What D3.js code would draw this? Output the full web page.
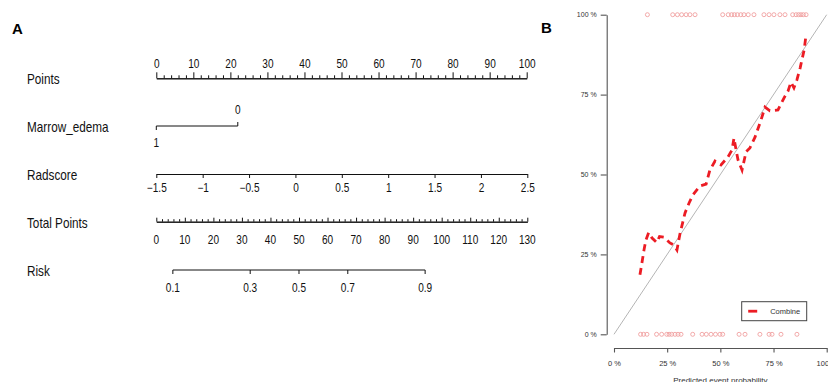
<!DOCTYPE html>
<html>
<head>
<meta charset="utf-8">
<script src="https://cdn.jsdelivr.net/npm/d3@7"></script>
<style>
  body { margin: 0; background: #fff; }
  svg { display: block; }
</style>
</head>
<body>
<svg id="chart" width="828" height="382"></svg>
<script>
// ---------- Panel A: nomogram ----------
const pointsTicks = [0, 10, 20, 30, 40, 50, 60, 70, 80, 90, 100];
const marrowLevels = ["0", "1"];
const marrowPoints = [22, 0];
const radscoreTicks = [-1.5, -1, -0.5, 0, 0.5, 1, 1.5, 2, 2.5];
const radscoreLabels = ["\u22121.5", "\u22121", "\u22120.5", "0", "0.5", "1", "1.5", "2", "2.5"];
const totalTicks = [0, 10, 20, 30, 40, 50, 60, 70, 80, 90, 100, 110, 120, 130];
const riskTicks = [0.1, 0.3, 0.5, 0.7, 0.9];
const riskTotalPoints = [5.8, 32.9, 50, 67.1, 94.2];

// ---------- Panel B: calibration curve ----------
const calPredicted = [0.122, 0.132, 0.141, 0.150, 0.163, 0.179, 0.201, 0.214, 0.235, 0.263,
  0.282, 0.296, 0.310, 0.334, 0.353, 0.371, 0.404, 0.433, 0.451, 0.475, 0.503, 0.536, 0.555,
  0.564, 0.574, 0.583, 0.602, 0.621, 0.639, 0.663, 0.691, 0.710, 0.733, 0.771, 0.799, 0.818,
  0.832, 0.846, 0.860, 0.875, 0.894, 0.903];
const calObserved = [0.186, 0.226, 0.264, 0.295, 0.318, 0.301, 0.287, 0.306, 0.304, 0.286,
  0.279, 0.264, 0.314, 0.380, 0.411, 0.436, 0.464, 0.470, 0.514, 0.542, 0.530, 0.555, 0.577,
  0.614, 0.577, 0.546, 0.514, 0.571, 0.583, 0.617, 0.670, 0.711, 0.699, 0.702, 0.739, 0.761,
  0.789, 0.771, 0.796, 0.833, 0.890, 0.937];
// predicted probabilities of cases with the event (drawn at 100 %) and without (at 0 %)
const rugEvents = [0.157, 0.276, 0.298, 0.318, 0.339, 0.357, 0.381, 0.511, 0.537, 0.553, 0.566,
  0.580, 0.596, 0.611, 0.631, 0.658, 0.705, 0.729, 0.752, 0.780, 0.804, 0.840, 0.856, 0.868,
  0.879, 0.890, 0.903];
const rugNonEvents = [0.125, 0.139, 0.155, 0.200, 0.224, 0.248, 0.259, 0.271, 0.287, 0.301,
  0.315, 0.370, 0.414, 0.434, 0.456, 0.477, 0.498, 0.511, 0.588, 0.616, 0.686, 0.729, 0.743,
  0.785, 0.860];
const pctTicks = [0, 0.25, 0.5, 0.75, 1];
const seriesName = "Combine";

const svg = d3.select("#chart");
const sans = "'Liberation Sans', Arial, Helvetica, sans-serif";
const squeeze = 0.84; // condensed lettering of the nomogram

// panel letters
svg.append("text").attr("x", 12).attr("y", 34).text("A")
  .attr("font-family", sans).attr("font-weight", "bold").attr("font-size", 15).attr("fill", "#000");
svg.append("text").attr("x", 541).attr("y", 33).text("B")
  .attr("font-family", sans).attr("font-weight", "bold").attr("font-size", 15).attr("fill", "#000");

// ---- Nomogram scales
const xPts = d3.scaleLinear().domain([0, 100]).range([156.3, 526.7]);
const xRad = d3.scaleLinear().domain([-1.5, 2.5]).range([156.3, 527.3]);
const xTot = d3.scaleLinear().domain([0, 130]).range([156.3, 527.3]);

const gA = svg.append("g");

// condensed text placed at (x, y)
function narrowText(parent, x, y, str, size, anchor) {
  return parent.append("text")
    .attr("transform", `translate(${x},${y}) scale(${squeeze},1)`)
    .attr("text-anchor", anchor || "start")
    .attr("font-family", sans).attr("font-size", size).attr("fill", "#111")
    .text(str);
}

function styleAxis(g, fontSize) {
  g.select(".domain").attr("stroke", "#111").attr("stroke-width", 1);
  g.selectAll(".tick line").attr("stroke", "#111").attr("stroke-width", 1);
  g.selectAll("text").attr("font-family", sans).attr("font-size", fontSize).attr("fill", "#111")
    .attr("transform", `scale(${squeeze},1)`);
  g.attr("font-family", null).attr("font-size", null);
}

// row labels
const rowLabels = [
  { text: "Points", y: 84 },
  { text: "Marrow_edema", y: 131.5 },
  { text: "Radscore", y: 180 },
  { text: "Total Points", y: 228 },
  { text: "Risk", y: 276 }
];
rowLabels.forEach(d => narrowText(gA, 27, d.y, d.text, 14));

// Points axis (ticks and labels above)
const minorPts = d3.range(0, 101, 2).filter(v => v % 10 !== 0);
const gP = gA.append("g").attr("transform", "translate(0,78.3)");
gP.append("g").call(d3.axisTop(xPts).tickValues(minorPts).tickSize(3).tickSizeOuter(0).tickFormat(""))
  .call(g => styleAxis(g, 12));
gP.append("g").call(d3.axisTop(xPts).tickValues(pointsTicks).tickSize(6).tickSizeOuter(0).tickPadding(4))
  .call(g => styleAxis(g, 12));

// Marrow_edema
const gM = gA.append("g").attr("transform", "translate(0,126)");
gM.append("line").attr("x1", xPts(d3.min(marrowPoints))).attr("x2", xPts(d3.max(marrowPoints)))
  .attr("stroke", "#111");
marrowLevels.forEach((lev, i) => {
  const x = xPts(marrowPoints[i]);
  const up = i === 0;
  gM.append("line").attr("x1", x).attr("x2", x).attr("y1", 0).attr("y2", up ? -4 : 4).attr("stroke", "#111");
  narrowText(gM, x, up ? -11.7 : 20.7, lev, 12, "middle");
});

// Radscore
const gR = gA.append("g").attr("transform", "translate(0,174)");
gR.call(d3.axisBottom(xRad).tickValues(radscoreTicks).tickSize(4).tickSizeOuter(0).tickPadding(5)
  .tickFormat((d, i) => radscoreLabels[i]))
  .call(g => styleAxis(g, 12));

// Total Points
const minorTot = d3.range(0, 131, 2).filter(v => v % 10 !== 0);
const gT = gA.append("g").attr("transform", "translate(0,221.7)");
gT.append("g").call(d3.axisTop(xTot).tickValues(minorTot).tickSize(2.5).tickSizeOuter(0).tickFormat(""))
  .call(g => styleAxis(g, 12));
gT.append("g").call(d3.axisTop(xTot).tickValues(totalTicks).tickSize(4).tickSizeOuter(0).tickFormat(""))
  .call(g => styleAxis(g, 12));
totalTicks.forEach(d => narrowText(gT, xTot(d), 22.3, d, 12, "middle"));

// Risk
const gK = gA.append("g").attr("transform", "translate(0,270)");
gK.append("line").attr("x1", xTot(d3.min(riskTotalPoints))).attr("x2", xTot(d3.max(riskTotalPoints)))
  .attr("stroke", "#111");
gK.selectAll("line.rt").data(riskTicks).join("line").attr("class", "rt")
  .attr("x1", (d, i) => xTot(riskTotalPoints[i])).attr("x2", (d, i) => xTot(riskTotalPoints[i]))
  .attr("y1", 0).attr("y2", 4).attr("stroke", "#111");
riskTicks.forEach((d, i) => narrowText(gK, xTot(riskTotalPoints[i]), 21.7, d, 12, "middle"));

// ---- Calibration plot
const xB = d3.scaleLinear().domain([0, 1]).range([614, 826.7]);
const yB = d3.scaleLinear().domain([0, 1]).range([334.3, 14.7]);
const gB = svg.append("g");
const pctFmt = d => Math.round(d * 100) + " %";

function styleB(g, fs) {
  g.select(".domain").attr("stroke", "#555").attr("stroke-width", 1.1);
  g.selectAll(".tick line").attr("stroke", "#555").attr("stroke-width", 1.1);
  g.selectAll("text").attr("font-family", sans).attr("font-size", fs).attr("fill", "#333");
  g.attr("font-family", null).attr("font-size", null);
}

gB.append("g").attr("transform", "translate(606.7,0)")
  .call(d3.axisLeft(yB).tickValues(pctTicks).tickSize(6).tickSizeOuter(0).tickPadding(4).tickFormat(pctFmt))
  .call(g => styleB(g, 7));
gB.append("g").attr("transform", "translate(0,348)")
  .call(d3.axisBottom(xB).tickValues(pctTicks).tickSize(4.5).tickSizeOuter(0).tickPadding(8).tickFormat(pctFmt))
  .call(g => styleB(g, 7.5));
gB.append("text").attr("x", xB(0.5)).attr("y", 383).attr("text-anchor", "middle")
  .text("Predicted event probability").attr("font-family", sans).attr("font-size", 8).attr("fill", "#333");

// ideal line
gB.append("line").attr("x1", xB(0)).attr("y1", yB(0)).attr("x2", xB(1)).attr("y2", yB(1))
  .attr("stroke", "#b5b5b5").attr("stroke-width", 1);

// rugs
gB.selectAll("circle.ev").data(rugEvents).join("circle").attr("class", "ev")
  .attr("cx", d => xB(d)).attr("cy", yB(1)).attr("r", 2)
  .attr("fill", "none").attr("stroke", "#f0a0a0").attr("stroke-width", 0.9);
gB.selectAll("circle.ne").data(rugNonEvents).join("circle").attr("class", "ne")
  .attr("cx", d => xB(d)).attr("cy", yB(0)).attr("r", 2)
  .attr("fill", "none").attr("stroke", "#f0a0a0").attr("stroke-width", 0.9);

// calibration curve
const calPts = calPredicted.map((p, i) => [p, calObserved[i]]);
gB.append("path").datum(calPts)
  .attr("d", d3.line().x(d => xB(d[0])).y(d => yB(d[1])))
  .attr("fill", "none").attr("stroke", "#ec1c24").attr("stroke-width", 2.8)
  .attr("stroke-dasharray", "7,5");

// legend
const lg = gB.append("g").attr("transform", "translate(741.7,301.7)");
lg.append("rect").attr("width", 65).attr("height", 19).attr("fill", "#fff")
  .attr("stroke", "#444").attr("stroke-width", 1);
lg.append("line").attr("x1", 6.5).attr("x2", 15.5).attr("y1", 9.5).attr("y2", 9.5)
  .attr("stroke", "#ec1c24").attr("stroke-width", 2.8);
lg.append("text").attr("x", 28.5).attr("y", 12.3).text(seriesName)
  .attr("font-family", sans).attr("font-size", 7.5).attr("fill", "#333");
</script>
</body>
</html>
